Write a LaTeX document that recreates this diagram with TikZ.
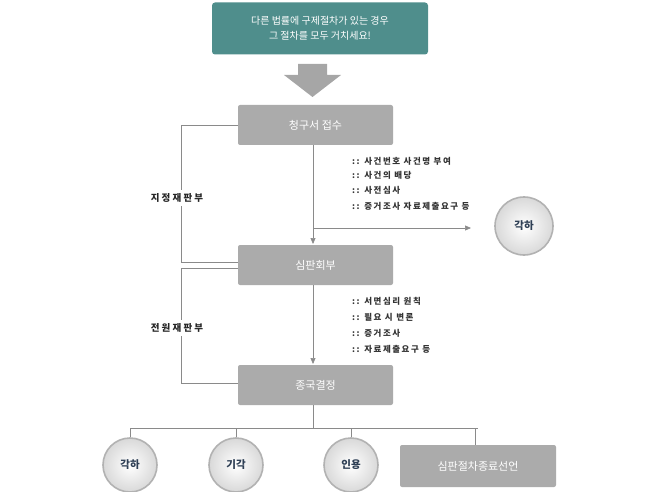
\documentclass[tikz,border=0pt]{standalone}
\usepackage{fontspec}
\setmainfont{Noto Sans CJK KR}
\usetikzlibrary{arrows.meta}
\definecolor{teal1}{HTML}{4F8E8C}
\definecolor{boxg}{HTML}{ABABAB}
\definecolor{ln}{HTML}{8A8A8A}
\definecolor{txt}{HTML}{2E3F55}
\tikzset{
 stepbox/.style={fill=boxg,rounded corners=2pt,minimum width=155pt,minimum height=40pt,text=white,font=\fontsize{11}{13}\selectfont},
 ball/.style={circle,draw=gray!60,line width=1.6pt,inner color=white,outer color=gray!30,minimum size=#1,text=txt,font=\fontsize{10.5}{12}\selectfont\bfseries},
 conn/.style={draw=ln,line width=0.7pt},
 arr/.style={conn,-{Triangle[length=6pt,width=5pt]}},
 bul/.style={anchor=west,font=\fontsize{8.5}{10}\selectfont\bfseries\addfontfeature{LetterSpace=18},text=black!80,inner sep=0pt},
 lbl/.style={font=\fontsize{9.5}{11}\selectfont\bfseries,text=black!85}
}
\begin{document}
\begin{tikzpicture}[x=1pt,y=-1pt]
\useasboundingbox (0,0) rectangle (656,492);
\node[fill=teal1,rounded corners=3pt,minimum width=216pt,minimum height=52pt,text=white,align=center,font=\fontsize{10}{15}\selectfont] (top) at (320,28.5) {다른 법률에 구제절차가 있는 경우\\그 절차를 모두 거치세요!};
\fill[gray!70] (298,64) -- (327,64) -- (327,75) -- (341,75) -- (312.5,97) -- (284,75) -- (298,75) -- cycle;
\node[stepbox] (b1) at (315.5,125) {청구서 접수};
\node[stepbox] (b2) at (315.5,265) {심판회부};
\node[stepbox] (b3) at (315.5,385) {종국결정};
\coordinate (l1a) at (181,125); \coordinate (l1b) at (181,262);
\draw[conn] (b1.west) -- (l1a) -- (l1b) -- (b2.west|-l1b);
\node[lbl,fill=white] at (177,198) {지 정 재 판 부};
\coordinate (l2a) at (181,268); \coordinate (l2b) at (181,383);
\draw[conn] (b2.west|-l2a) -- (l2a) -- (l2b) -- (b3.west|-l2b);
\node[lbl,fill=white] at (177,328) {전 원 재 판 부};
\node[ball=58pt] (k1) at (524,226) {각하};
\coordinate (br) at (313,228);
\draw[arr] (313,145) -- (313,244);
\draw[arr] (br) -- (471,228);
\node[bul] at (352,161) {:: 사건번호 사건명 부여};
\node[bul] at (352,175.5) {:: 사건의 배당};
\node[bul] at (352,190.5) {:: 사전심사};
\node[bul] at (352,206) {:: 증거조사 자료제출요구 등};
\draw[arr] (313,285) -- (313,364);
\node[bul] at (352,301) {:: 서면심리 원칙};
\node[bul] at (352,317) {:: 필요 시 변론};
\node[bul] at (352,333) {:: 증거조사};
\node[bul] at (352,349) {:: 자료제출요구 등};
\node[ball=54pt] (c1) at (130,465) {각하};
\node[ball=54pt] (c2) at (236,465) {기각};
\node[ball=54pt] (c3) at (351,465) {인용};
\node[fill=boxg,rounded corners=2pt,minimum width=156pt,minimum height=42pt,text=white,font=\fontsize{11}{13}\selectfont] (r4) at (478,466) {심판절차종료선언};
\coordinate (j) at (313,428);
\draw[conn] (b3.south-|j) -- (j);
\draw[conn] (c1.north|-j) -- (r4.north|-j);
\draw[conn] (c1.north|-j) -- (c1.north);
\draw[conn] (c2.north|-j) -- (c2.north);
\draw[conn] (c3.north|-j) -- (c3.north);
\draw[conn] (475,428) -- (475,445);
\end{tikzpicture}
\end{document}
